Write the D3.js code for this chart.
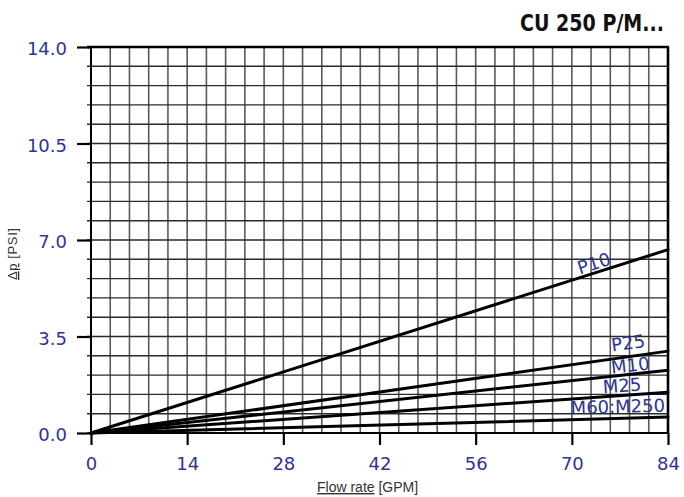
<!DOCTYPE html>
<html>
<head>
<meta charset="utf-8">
<script src="https://cdn.jsdelivr.net/npm/d3@7"></script>
<style>
  body { margin: 0; background: #fff; }
  svg { display: block; }
</style>
</head>
<body>
<div id="chart"></div>
<script>
// Datos (CU 250 P/M...)
const flowTicks = [0, 14, 28, 42, 56, 70, 84]
const dpTicks = [0, 3.5, 7.0, 10.5, 14.0]
const seriesNames = ["P10", "P25", "M10", "M25", "M60:M250"]
const flowPoints = [0, 84]
const dpP10 = [0, 6.65]
const dpP25 = [0, 2.97]
const dpM10 = [0, 2.28]
const dpM25 = [0, 1.48]
const dpM60 = [0, 0.58]
const seriesValues = [dpP10, dpP25, dpM10, dpM25, dpM60]

// Constantes:
const width = 684
const height = 497
const margins = { top: 47, bottom: 64, left: 91, right: 16 }
const innerW = width - margins.left - margins.right
const innerH = height - margins.top - margins.bottom
const blue = "#2b3595"

const svg = d3.select("#chart").append("svg").attr("width", width).attr("height", height)
const elementGroup = svg.append("g").attr("transform", `translate(${margins.left},${margins.top})`)

// Escalas:
const x = d3.scaleLinear().domain([0, 84]).range([0, innerW])
const y = d3.scaleLinear().domain([0, 14]).range([innerH, 0])

// Rejilla (cada 2.8 GPM y cada 0.7 PSI):
elementGroup.append("g").selectAll("line").data(d3.range(0, 84.001, 2.8)).enter().append("line")
    .attr("x1", d => x(d)).attr("x2", d => x(d))
    .attr("y1", 0).attr("y2", innerH)
    .attr("stroke", "#5a5a5a").attr("stroke-width", 1.6)
elementGroup.append("g").selectAll("line").data(d3.range(0, 14.001, 0.7)).enter().append("line")
    .attr("x1", -4).attr("x2", innerW)
    .attr("y1", d => y(d)).attr("y2", d => y(d))
    .attr("stroke", "#2a2a2a").attr("stroke-width", 1.4)

// Marco:
elementGroup.append("line").attr("x1", -4).attr("x2", innerW + 1).attr("y1", 0).attr("y2", 0)
    .attr("stroke", "#000").attr("stroke-width", 2.6)
elementGroup.append("line").attr("x1", innerW).attr("x2", innerW).attr("y1", 0).attr("y2", innerH)
    .attr("stroke", "#000").attr("stroke-width", 2.6)
elementGroup.append("line").attr("x1", 0).attr("x2", 0).attr("y1", 0).attr("y2", innerH)
    .attr("stroke", "#000").attr("stroke-width", 2)
elementGroup.append("line").attr("x1", 0).attr("x2", innerW).attr("y1", innerH).attr("y2", innerH)
    .attr("stroke", "#000").attr("stroke-width", 2)

// Ejes:
const yAxis = d3.axisLeft(y).tickValues(dpTicks).tickFormat(d3.format(".1f")).tickSize(14).tickPadding(10)
const xAxis = d3.axisBottom(x).tickValues(flowTicks).tickFormat(d3.format("d")).tickSize(12).tickPadding(12)

const groupY = elementGroup.append("g").call(yAxis)
const groupX = elementGroup.append("g").attr("transform", `translate(0,${innerH})`).call(xAxis)

;[groupX, groupY].forEach(g => {
    g.select(".domain").remove()
    g.selectAll(".tick line").attr("stroke", "#000").attr("stroke-width", 2.2)
    g.selectAll(".tick text")
        .attr("fill", blue)
        .style("font-family", "'DejaVu Sans', sans-serif")
        .style("font-size", "18px")
})
groupY.selectAll(".tick text").attr("dy", "0.42em")

// Lineas de las series:
const line = d3.line()
    .x((d, i) => x(flowPoints[i]))
    .y(d => y(d))

elementGroup.append("g").selectAll("path").data(seriesValues).enter().append("path")
    .attr("d", d => line(d))
    .attr("fill", "none")
    .attr("stroke", "#000")
    .attr("stroke-width", 3)
    .attr("stroke-linecap", "round")

// Etiquetas de las series (posicion en GPM y desplazamiento sobre la linea):
const labelAt = [
    { gpm: 73.2, dy: -10 },
    { gpm: 78.2, dy: -14 },
    { gpm: 78.5, dy: -9 },
    { gpm: 77.3, dy: -10 },
    { gpm: 76.7, dy: -12 }
]
seriesNames.forEach((name, i) => {
    const vals = seriesValues[i]
    const along = d3.scaleLinear().domain(flowPoints).range(vals)
    const px = x(labelAt[i].gpm)
    const py = y(along(labelAt[i].gpm)) + labelAt[i].dy
    const angle = Math.atan2(y(vals[1]) - y(vals[0]), x(flowPoints[1]) - x(flowPoints[0])) * 180 / Math.PI
    elementGroup.append("text")
        .attr("transform", `translate(${px},${py}) rotate(${angle})`)
        .attr("text-anchor", "middle")
        .attr("dy", "0.36em")
        .attr("fill", blue)
        .style("font-family", "'DejaVu Sans', sans-serif")
        .style("font-size", "18px")
        .text(name)
})

// Titulos:
svg.append("text")
    .attr("x", 520).attr("y", 31)
    .attr("textLength", 144).attr("lengthAdjust", "spacingAndGlyphs")
    .attr("fill", "#111")
    .style("font-family", "'Liberation Sans Narrow', 'DejaVu Sans Condensed', sans-serif")
    .style("font-weight", "bold")
    .style("font-size", "23px")
    .text("CU 250 P/M...")

const yTitle = svg.append("text")
    .attr("transform", "translate(17,254) rotate(-90)")
    .attr("text-anchor", "middle")
    .attr("textLength", 52)
    .attr("fill", "#333")
    .style("font-family", "'Liberation Sans', Arial, sans-serif")
    .style("font-size", "13px")
yTitle.append("tspan").style("text-decoration", "underline").text("Δp")
yTitle.append("tspan").text(" [PSI]")

const xTitle = svg.append("text")
    .attr("x", 317).attr("y", 492)
    .attr("fill", "#333")
    .style("font-family", "'Liberation Sans', Arial, sans-serif")
    .style("font-size", "14px")
xTitle.append("tspan").style("text-decoration", "underline").text("Flow rate")
xTitle.append("tspan").text(" [GPM]")
</script>
</body>
</html>
